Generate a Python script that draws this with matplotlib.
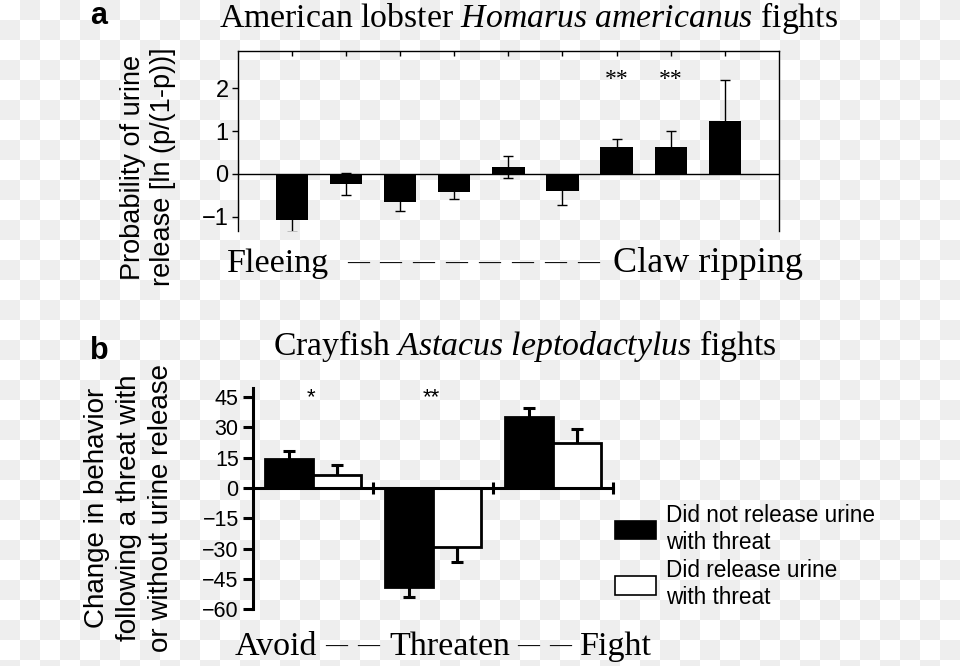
import numpy as np
import matplotlib
matplotlib.use("Agg")
import matplotlib.pyplot as plt
from matplotlib.patches import Patch

plt.rcParams['font.family'] = ['Liberation Sans', 'DejaVu Sans']
plt.rcParams['mathtext.fontset'] = 'custom'
plt.rcParams['mathtext.rm'] = 'Liberation Serif'
plt.rcParams['mathtext.it'] = 'Liberation Serif:italic'

# ---------------- data ----------------
# Panel a: lobster fights, 9 ordered fight intensity levels
lobster_levels = np.arange(9)
lobster_values = [-1.08, -0.24, -0.66, -0.41, 0.16, -0.39, 0.63, 0.63, 1.23]
lobster_errors = [0.27, 0.26, 0.19, 0.17, 0.25, 0.34, 0.18, 0.38, 0.96]
lobster_yticks = [-1, 0, 1, 2]
lobster_signif = {6: "**", 7: "**"}

# Panel b: crayfish fights
crayfish_behaviours = ["Avoid", "Threaten", "Fight"]
no_urine_values = [14.2, -48.9, 35.0]
no_urine_errors = [3.8, 4.9, 4.5]
urine_values = [6.4, -29.1, 22.1]
urine_errors = [5.0, 7.7, 7.1]
crayfish_yticks = [45, 30, 15, 0, -15, -30, -45, -60]
crayfish_signif = {0: "*", 1: "**"}
legend_labels = ["Did not release urine\nwith threat", "Did release urine\nwith threat"]

W, H = 960, 666
fig = plt.figure(figsize=(W / 100, H / 100), dpi=100)

def fx(px):
    return px / W

def fy(py):
    return 1 - py / H

# checkerboard background (transparent image look)
bg = fig.add_axes([0, 0, 1, 1], zorder=-10)
rows, cols = 34, 48
ii, jj = np.mgrid[0:rows, 0:cols]
board = np.where((ii + jj) % 2 == 1, 238 / 255, 1.0)
bg.imshow(board, cmap='gray', vmin=0, vmax=1, interpolation='nearest',
          extent=(0, 960, 680, 0), aspect='auto')
bg.set_xlim(0, 960)
bg.set_ylim(666, 0)
bg.axis('off')

SERIF = 'Liberation Serif'

# ---------------- panel a ----------------
axa = fig.add_axes([fx(237.7), fy(230.7), (779 - 237.7) / W, 180 / H])
axa.set_facecolor('none')
axa.errorbar(lobster_levels, lobster_values, yerr=lobster_errors, fmt='none',
             ecolor='black', elinewidth=1.0, capsize=3.4, capthick=1.0, zorder=1)
axa.bar(lobster_levels, lobster_values, width=0.6, color='black', zorder=2)
axa.axhline(0, color='black', lw=1.0, zorder=3)
axa.set_xlim(-1, 9)
axa.set_ylim(-1.32, 2.87)
for s in ['left', 'right', 'top']:
    axa.spines[s].set_linewidth(1.0)
axa.spines['bottom'].set_visible(False)
axa.set_yticks(lobster_yticks)
axa.set_yticklabels([str(v) if v >= 0 else '\u2212' + str(-v) for v in lobster_yticks])
axa.tick_params(axis='y', direction='out', length=4.5, width=1.0, labelsize=17, pad=2)
axa.xaxis.set_ticks_position('top')
axa.set_xticks(lobster_levels)
axa.tick_params(axis='x', direction='in', length=3.5, width=1.0, labeltop=False, labelbottom=False)
for k, s in lobster_signif.items():
    axa.text(k, 2.2, s, ha='center', va='center', fontsize=17, family=SERIF)

fig.text(fx(148), fy(167), "Probability of urine\nrelease [ln (p/(1-p))]", rotation=90,
         ha='center', va='center', fontsize=19.5, linespacing=1.25)
fig.text(fx(529), fy(27), r"American lobster $\mathit{Homarus\ americanus}$ fights",
         ha='center', va='baseline', fontsize=24.3, family=SERIF)
fig.text(fx(90), fy(24), "a", fontsize=22, fontweight='bold', ha='left', va='baseline')
fig.text(fx(227), fy(272), "Fleeing", ha='left', va='baseline', fontsize=24.5, family=SERIF)
fig.text(fx(803), fy(272), "Claw ripping", ha='right', va='baseline', fontsize=26, family=SERIF)
fig.text(fx(474), fy(268), "  ".join(["\u2014"] * 8), ha='center', va='baseline',
         fontsize=15.8, family=SERIF, fontweight='bold')

# ---------------- panel b ----------------
axb = fig.add_axes([fx(253.3), fy(609.3), 360 / W, 221 / H])
axb.set_facecolor('none')
centers = np.arange(len(crayfish_behaviours)) + 0.5
axb.errorbar(centers - 0.2, no_urine_values, yerr=no_urine_errors, fmt='none',
             ecolor='black', elinewidth=2.2, capsize=4, capthick=2.2, zorder=1)
axb.errorbar(centers + 0.2, urine_values, yerr=urine_errors, fmt='none',
             ecolor='black', elinewidth=2.2, capsize=4, capthick=2.2, zorder=1)
axb.bar(centers - 0.2, no_urine_values, width=0.4, color='black', edgecolor='black',
        linewidth=2.0, zorder=2)
axb.bar(centers + 0.2, urine_values, width=0.4, color='white', edgecolor='black',
        linewidth=2.0, zorder=2)
axb.set_xlim(0, 3)
axb.set_ylim(-60, 49.2)
axb.spines['top'].set_visible(False)
axb.spines['right'].set_visible(False)
axb.spines['bottom'].set_position(('data', 0))
axb.spines['bottom'].set_linewidth(2.2)
axb.spines['left'].set_linewidth(2.2)
axb.spines['bottom'].set_zorder(3)
axb.set_yticks(crayfish_yticks)
axb.set_yticklabels([str(v) if v >= 0 else '\u2212' + str(-v) for v in crayfish_yticks])
axb.tick_params(axis='y', direction='out', length=7.5, width=2.2, labelsize=15.5, pad=3)
axb.set_xticks([1, 2, 3])
axb.tick_params(axis='x', direction='inout', length=8.5, width=2.2, labelbottom=False)
for k, s in crayfish_signif.items():
    axb.text(k + 0.5 - 0.02, 44.5, s, ha='center', va='center', fontsize=16)

axb.legend(handles=[Patch(facecolor='black', edgecolor='black', linewidth=1.2),
                    Patch(facecolor='white', edgecolor='black', linewidth=1.2)],
           labels=legend_labels, loc='upper left',
           bbox_to_anchor=(fx(615), fy(504)), bbox_transform=fig.transFigure,
           frameon=False, fontsize=16.3, handlelength=1.8, handleheight=0.9,
           handletextpad=0.45, labelspacing=0.25, borderpad=0, borderaxespad=0)
for t in axb.get_legend().get_texts():
    t.set_linespacing(1.2)

fig.text(fx(129), fy(508), "Change in behavior\nfollowing a threat with\nor without urine release",
         rotation=90, ha='center', va='center', fontsize=20, linespacing=1.3)
fig.text(fx(524.5), fy(355), r"Crayfish $\mathit{Astacus\ leptodactylus}$ fights",
         ha='center', va='baseline', fontsize=24.3, family=SERIF)
fig.text(fx(90), fy(359), "b", fontsize=22, fontweight='bold', ha='left', va='baseline')

fig.text(fx(235), fy(655), "Avoid", ha='left', va='baseline', fontsize=24.5, family=SERIF)
fig.text(fx(352.5), fy(651), "\u2014  \u2014", ha='center', va='baseline', fontsize=15.8,
         family=SERIF, fontweight='bold')
fig.text(fx(450), fy(655), "Threaten", ha='center', va='baseline', fontsize=24.5, family=SERIF)
fig.text(fx(544.5), fy(651), "\u2014  \u2014", ha='center', va='baseline', fontsize=15.8,
         family=SERIF, fontweight='bold')
fig.text(fx(652), fy(655), "Fight", ha='right', va='baseline', fontsize=24.5, family=SERIF)

fig.savefig("out.png", dpi=100)
